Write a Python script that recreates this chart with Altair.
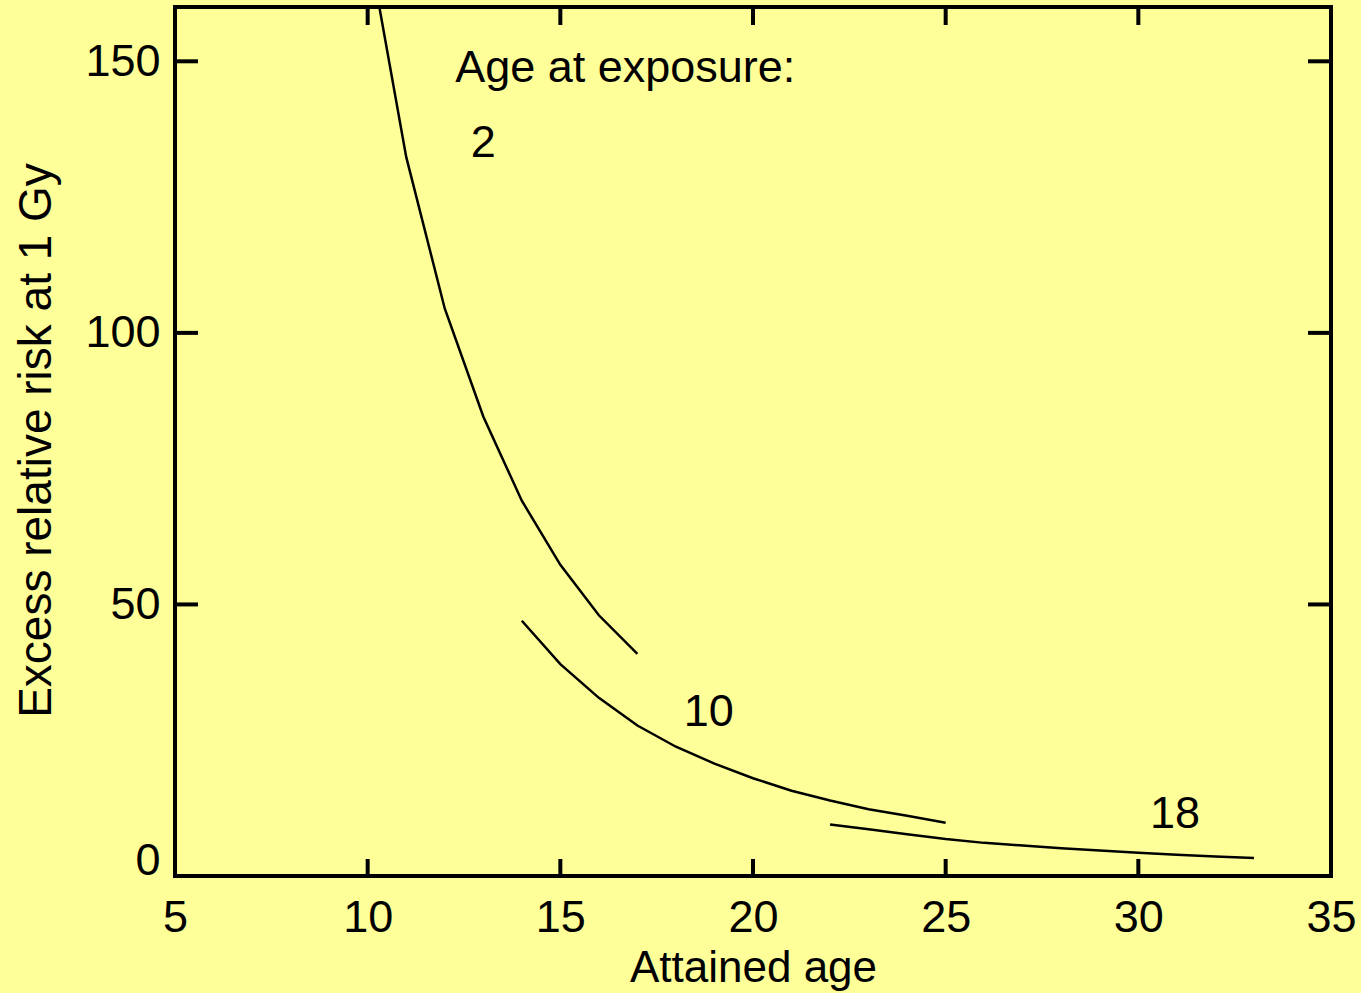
import altair as alt
import pandas as pd

# ---- data ----
ages_2 = [10, 11, 12, 13, 14, 15, 16, 17]
err_2 = [172, 132.4, 104.5, 84.6, 69.1, 57.3, 48.0, 40.9]

ages_10 = [14, 15, 16, 17, 18, 19, 20, 21, 22, 23, 24, 25]
err_10 = [47.0, 39.0, 32.8, 27.7, 23.8, 20.7, 18.0, 15.7, 13.9, 12.3, 11.1, 9.8]

ages_18 = [22, 23, 24, 25, 26, 27, 28, 29, 30, 31, 32, 33]
err_18 = [9.5, 8.6, 7.7, 6.8, 6.1, 5.6, 5.1, 4.7, 4.3, 3.9, 3.6, 3.3]

x_tick_values = [5, 10, 15, 20, 25, 30, 35]
y_tick_values = [0, 50, 100, 150]
inner_x_ticks = [10, 15, 20, 25, 30]
inner_y_ticks = [50, 100, 150]

heading = ["Age at exposure:"]
heading_x = [12.27]
heading_y = [146.25]

group_labels = ["2", "10", "18"]
group_label_x = [13.0, 18.85, 30.95]
group_label_y = [132.4, 27.6, 8.8]

FONT = "Liberation Sans"
FS = 45
W, H = 1156, 869

rows = []
for name, xs, ys in (("2", ages_2, err_2), ("10", ages_10, err_10), ("18", ages_18, err_18)):
    for a, e in zip(xs, ys):
        rows.append({"exposure": name, "age": a, "err": e})
curves = pd.DataFrame(rows)

xscale = alt.Scale(domain=[5, 35], nice=False, zero=False)
yscale = alt.Scale(domain=[0, 160], nice=False, zero=False)

xaxis = alt.Axis(values=x_tick_values, title="Attained age", grid=False, domain=False,
                 ticks=False, tickSize=0, labelPadding=19, labelFlush=False,
                 labelOverlap=False, labelFont=FONT, labelFontSize=FS, labelColor="black",
                 titleFont=FONT, titleFontSize=44, titleFontWeight="normal", titleColor="black",
                 titleBaseline="alphabetic", titleY=105, format="d")
yaxis = alt.Axis(values=y_tick_values, title="Excess relative risk at 1 Gy", grid=False,
                 domain=False, ticks=False, tickSize=0, labelPadding=15, labelFlush=True,
                 labelFlushOffset=7,
                 labelOverlap=False, labelFont=FONT, labelFontSize=FS, labelColor="black",
                 titleFont=FONT, titleFontSize=46, titleFontWeight="normal", titleColor="black",
                 titleBaseline="alphabetic", titleX=-125, titleY=433, titleAngle=270, format="d")

lines = alt.Chart(curves).mark_line(color="black", strokeWidth=2.5, clip=True).encode(
    x=alt.X("age:Q", scale=xscale, axis=xaxis),
    y=alt.Y("err:Q", scale=yscale, axis=yaxis),
    detail="exposure:N",
)

xt = pd.DataFrame({"v": inner_x_ticks})
yt = pd.DataFrame({"v": inner_y_ticks})
rule_style = dict(color="black", strokeWidth=4, strokeCap="butt")

bottom_ticks = alt.Chart(xt).mark_rule(**rule_style).encode(
    x=alt.X("v:Q", scale=xscale), y=alt.value(H), y2=alt.value(H - 17))
top_ticks = alt.Chart(xt).mark_rule(**rule_style).encode(
    x=alt.X("v:Q", scale=xscale), y=alt.value(0), y2=alt.value(18))
left_ticks = alt.Chart(yt).mark_rule(**rule_style).encode(
    y=alt.Y("v:Q", scale=yscale), x=alt.value(0), x2=alt.value(23))
right_ticks = alt.Chart(yt).mark_rule(**rule_style).encode(
    y=alt.Y("v:Q", scale=yscale), x=alt.value(W), x2=alt.value(W - 23))

head_df = pd.DataFrame({"t": heading, "x": heading_x, "y": heading_y})
lab_df = pd.DataFrame({"t": group_labels, "x": group_label_x, "y": group_label_y})

head = alt.Chart(head_df).mark_text(font=FONT, fontSize=FS, color="black", align="left",
                                    baseline="alphabetic").encode(
    x=alt.X("x:Q", scale=xscale), y=alt.Y("y:Q", scale=yscale), text="t:N")
labs = alt.Chart(lab_df).mark_text(font=FONT, fontSize=FS, color="black", align="center",
                                   baseline="alphabetic").encode(
    x=alt.X("x:Q", scale=xscale), y=alt.Y("y:Q", scale=yscale), text="t:N")

chart = alt.layer(lines, bottom_ticks, top_ticks, left_ticks, right_ticks, head, labs).properties(
    width=W, height=H,
    autosize=alt.AutoSizeParams(type="none"),
    padding={"left": 175, "top": 7, "right": 30, "bottom": 117},
    background="#FFFF99",
).configure_view(stroke="black", strokeWidth=4, fill="#FFFF99")

chart.save("out.html", embed_options={"renderer": "svg", "actions": False})
